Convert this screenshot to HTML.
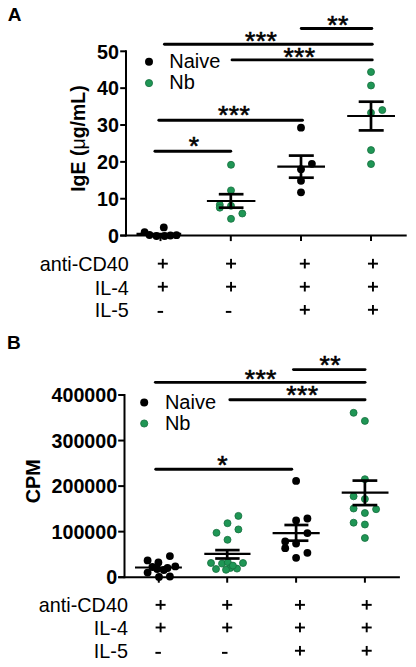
<!DOCTYPE html>
<html><head><meta charset="utf-8"><style>
html,body{margin:0;padding:0;background:#fff;width:416px;height:667px;overflow:hidden}
svg{position:absolute;left:0;top:0;display:block}
text{font-family:"Liberation Sans",sans-serif;fill:#000}
</style></head><body>
<svg width="416" height="667" viewBox="0 0 416 667">
<line x1="126.00" y1="50.30" x2="126.00" y2="236.60" stroke="#000" stroke-width="2"/>
<line x1="120.20" y1="235.60" x2="126.00" y2="235.60" stroke="#000" stroke-width="2"/>
<text x="119.00" y="242.80" font-size="19.7" font-weight="bold" text-anchor="end">0</text>
<line x1="120.20" y1="198.74" x2="126.00" y2="198.74" stroke="#000" stroke-width="2"/>
<text x="119.00" y="205.94" font-size="19.7" font-weight="bold" text-anchor="end">10</text>
<line x1="120.20" y1="161.88" x2="126.00" y2="161.88" stroke="#000" stroke-width="2"/>
<text x="119.00" y="169.08" font-size="19.7" font-weight="bold" text-anchor="end">20</text>
<line x1="120.20" y1="125.02" x2="126.00" y2="125.02" stroke="#000" stroke-width="2"/>
<text x="119.00" y="132.22" font-size="19.7" font-weight="bold" text-anchor="end">30</text>
<line x1="120.20" y1="88.16" x2="126.00" y2="88.16" stroke="#000" stroke-width="2"/>
<text x="119.00" y="95.36" font-size="19.7" font-weight="bold" text-anchor="end">40</text>
<line x1="120.20" y1="51.30" x2="126.00" y2="51.30" stroke="#000" stroke-width="2"/>
<text x="119.00" y="58.50" font-size="19.7" font-weight="bold" text-anchor="end">50</text>
<line x1="120.20" y1="235.60" x2="406.70" y2="235.60" stroke="#000" stroke-width="2"/>
<line x1="160.50" y1="235.60" x2="160.50" y2="241.10" stroke="#000" stroke-width="2"/>
<line x1="230.80" y1="235.60" x2="230.80" y2="241.10" stroke="#000" stroke-width="2"/>
<line x1="301.00" y1="235.60" x2="301.00" y2="241.10" stroke="#000" stroke-width="2"/>
<line x1="371.00" y1="235.60" x2="371.00" y2="241.10" stroke="#000" stroke-width="2"/>
<text x="85.20" y="191.80" font-size="19.5" font-weight="bold" transform="rotate(-90 85.2 191.8)">IgE (<tspan font-weight="normal">μ</tspan>g/mL)</text>
<text x="7.70" y="20.70" font-size="19" font-weight="bold">A</text>
<circle cx="149" cy="61.8" r="4" fill="#000"/>
<circle cx="149" cy="83.1" r="3.6" fill="#1f9655" stroke="#156e3e" stroke-width="0.8"/>
<text x="169.30" y="68.00" font-size="20">Naive</text>
<text x="169.30" y="89.30" font-size="20">Nb</text>
<circle cx="144.6" cy="232.2" r="3.9" fill="#000"/>
<circle cx="149.5" cy="235" r="3.9" fill="#000"/>
<circle cx="156.5" cy="236" r="3.9" fill="#000"/>
<circle cx="163.8" cy="227.4" r="3.9" fill="#000"/>
<circle cx="164.6" cy="236" r="3.9" fill="#000"/>
<circle cx="170.4" cy="235.5" r="3.9" fill="#000"/>
<circle cx="176.5" cy="235.2" r="3.9" fill="#000"/>
<line x1="136.50" y1="233.80" x2="181.20" y2="233.80" stroke="#000" stroke-width="2.2"/>
<circle cx="231" cy="164.8" r="3.5" fill="#1f9655" stroke="#156e3e" stroke-width="0.8"/>
<circle cx="231" cy="190.4" r="3.5" fill="#1f9655" stroke="#156e3e" stroke-width="0.8"/>
<circle cx="219.8" cy="204.8" r="3.5" fill="#1f9655" stroke="#156e3e" stroke-width="0.8"/>
<circle cx="219.8" cy="207.7" r="3.5" fill="#1f9655" stroke="#156e3e" stroke-width="0.8"/>
<circle cx="231" cy="205.8" r="3.5" fill="#1f9655" stroke="#156e3e" stroke-width="0.8"/>
<circle cx="242.3" cy="213.5" r="3.5" fill="#1f9655" stroke="#156e3e" stroke-width="0.8"/>
<circle cx="231" cy="218.8" r="3.5" fill="#1f9655" stroke="#156e3e" stroke-width="0.8"/>
<line x1="206.90" y1="201.00" x2="255.40" y2="201.00" stroke="#000" stroke-width="2.2"/>
<line x1="230.80" y1="194.20" x2="230.80" y2="207.70" stroke="#000" stroke-width="2.7"/>
<line x1="218.80" y1="194.20" x2="243.50" y2="194.20" stroke="#000" stroke-width="2.7"/>
<line x1="218.80" y1="207.70" x2="243.50" y2="207.70" stroke="#000" stroke-width="2.7"/>
<circle cx="301" cy="127.7" r="3.9" fill="#000"/>
<circle cx="311.9" cy="163.8" r="3.9" fill="#000"/>
<circle cx="301" cy="169.2" r="3.9" fill="#000"/>
<circle cx="301" cy="180.8" r="3.9" fill="#000"/>
<circle cx="301" cy="192.3" r="3.9" fill="#000"/>
<line x1="277.30" y1="166.70" x2="325.00" y2="166.70" stroke="#000" stroke-width="2.2"/>
<line x1="301.00" y1="155.60" x2="301.00" y2="177.70" stroke="#000" stroke-width="2.7"/>
<line x1="288.80" y1="155.60" x2="313.80" y2="155.60" stroke="#000" stroke-width="2.7"/>
<line x1="288.80" y1="177.70" x2="313.80" y2="177.70" stroke="#000" stroke-width="2.7"/>
<circle cx="371" cy="72" r="3.5" fill="#1f9655" stroke="#156e3e" stroke-width="0.8"/>
<circle cx="371" cy="85.5" r="3.5" fill="#1f9655" stroke="#156e3e" stroke-width="0.8"/>
<circle cx="382.3" cy="110.1" r="3.5" fill="#1f9655" stroke="#156e3e" stroke-width="0.8"/>
<circle cx="371" cy="112.8" r="3.5" fill="#1f9655" stroke="#156e3e" stroke-width="0.8"/>
<circle cx="371" cy="150.1" r="3.5" fill="#1f9655" stroke="#156e3e" stroke-width="0.8"/>
<circle cx="371" cy="164.1" r="3.5" fill="#1f9655" stroke="#156e3e" stroke-width="0.8"/>
<line x1="347.20" y1="116.00" x2="395.00" y2="116.00" stroke="#000" stroke-width="2.2"/>
<line x1="371.00" y1="101.70" x2="371.00" y2="130.40" stroke="#000" stroke-width="2.7"/>
<line x1="358.70" y1="101.70" x2="383.70" y2="101.70" stroke="#000" stroke-width="2.7"/>
<line x1="358.70" y1="130.40" x2="383.70" y2="130.40" stroke="#000" stroke-width="2.7"/>
<line x1="301.25" y1="28.50" x2="371.85" y2="28.50" stroke="#000" stroke-width="2.9" stroke-linecap="round"/>
<text x="327.20" y="34.10" font-size="26.5" letter-spacing="0.4" stroke="#000" stroke-width="0.6">**</text>
<line x1="164.45" y1="44.20" x2="372.25" y2="44.20" stroke="#000" stroke-width="2.9" stroke-linecap="round"/>
<text x="245.00" y="49.50" font-size="26.5" letter-spacing="0.4" stroke="#000" stroke-width="0.6">***</text>
<line x1="232.05" y1="59.90" x2="372.25" y2="59.90" stroke="#000" stroke-width="2.9" stroke-linecap="round"/>
<text x="283.40" y="65.70" font-size="26.5" letter-spacing="0.4" stroke="#000" stroke-width="0.6">***</text>
<line x1="158.85" y1="120.20" x2="302.45" y2="120.20" stroke="#000" stroke-width="2.9" stroke-linecap="round"/>
<text x="218.00" y="124.20" font-size="26.5" letter-spacing="0.4" stroke="#000" stroke-width="0.6">***</text>
<line x1="154.95" y1="151.30" x2="230.75" y2="151.30" stroke="#000" stroke-width="2.9" stroke-linecap="round"/>
<text x="188.70" y="155.30" font-size="26.5" letter-spacing="0.4" stroke="#000" stroke-width="0.6">*</text>
<text x="128.80" y="270.60" font-size="19.8" text-anchor="end">anti-CD40</text>
<text x="128.80" y="294.50" font-size="19.8" text-anchor="end">IL-4</text>
<text x="128.80" y="316.60" font-size="19.8" text-anchor="end">IL-5</text>
<line x1="157.80" y1="263.65" x2="167.80" y2="263.65" stroke="#000" stroke-width="1.95"/>
<line x1="162.80" y1="258.85" x2="162.80" y2="268.45" stroke="#000" stroke-width="1.95"/>
<line x1="226.05" y1="263.65" x2="236.05" y2="263.65" stroke="#000" stroke-width="1.95"/>
<line x1="231.05" y1="258.85" x2="231.05" y2="268.45" stroke="#000" stroke-width="1.95"/>
<line x1="299.80" y1="263.65" x2="309.80" y2="263.65" stroke="#000" stroke-width="1.95"/>
<line x1="304.80" y1="258.85" x2="304.80" y2="268.45" stroke="#000" stroke-width="1.95"/>
<line x1="367.95" y1="263.65" x2="377.95" y2="263.65" stroke="#000" stroke-width="1.95"/>
<line x1="372.95" y1="258.85" x2="372.95" y2="268.45" stroke="#000" stroke-width="1.95"/>
<line x1="157.80" y1="286.70" x2="167.80" y2="286.70" stroke="#000" stroke-width="1.95"/>
<line x1="162.80" y1="281.90" x2="162.80" y2="291.50" stroke="#000" stroke-width="1.95"/>
<line x1="226.05" y1="286.70" x2="236.05" y2="286.70" stroke="#000" stroke-width="1.95"/>
<line x1="231.05" y1="281.90" x2="231.05" y2="291.50" stroke="#000" stroke-width="1.95"/>
<line x1="299.80" y1="286.70" x2="309.80" y2="286.70" stroke="#000" stroke-width="1.95"/>
<line x1="304.80" y1="281.90" x2="304.80" y2="291.50" stroke="#000" stroke-width="1.95"/>
<line x1="367.95" y1="286.70" x2="377.95" y2="286.70" stroke="#000" stroke-width="1.95"/>
<line x1="372.95" y1="281.90" x2="372.95" y2="291.50" stroke="#000" stroke-width="1.95"/>
<line x1="157.60" y1="311.90" x2="163.10" y2="311.90" stroke="#000" stroke-width="1.95"/>
<line x1="225.85" y1="311.90" x2="231.35" y2="311.90" stroke="#000" stroke-width="1.95"/>
<line x1="299.80" y1="309.80" x2="309.80" y2="309.80" stroke="#000" stroke-width="1.95"/>
<line x1="304.80" y1="305.00" x2="304.80" y2="314.60" stroke="#000" stroke-width="1.95"/>
<line x1="367.95" y1="309.80" x2="377.95" y2="309.80" stroke="#000" stroke-width="1.95"/>
<line x1="372.95" y1="305.00" x2="372.95" y2="314.60" stroke="#000" stroke-width="1.95"/>
<line x1="124.50" y1="394.00" x2="124.50" y2="578.20" stroke="#000" stroke-width="2"/>
<line x1="118.20" y1="577.20" x2="124.50" y2="577.20" stroke="#000" stroke-width="2"/>
<text x="117.20" y="584.40" font-size="19.7" font-weight="bold" text-anchor="end">0</text>
<line x1="118.20" y1="531.65" x2="124.50" y2="531.65" stroke="#000" stroke-width="2"/>
<text x="117.20" y="538.85" font-size="19.7" font-weight="bold" text-anchor="end">100000</text>
<line x1="118.20" y1="486.10" x2="124.50" y2="486.10" stroke="#000" stroke-width="2"/>
<text x="117.20" y="493.30" font-size="19.7" font-weight="bold" text-anchor="end">200000</text>
<line x1="118.20" y1="440.55" x2="124.50" y2="440.55" stroke="#000" stroke-width="2"/>
<text x="117.20" y="447.75" font-size="19.7" font-weight="bold" text-anchor="end">300000</text>
<line x1="118.20" y1="395.00" x2="124.50" y2="395.00" stroke="#000" stroke-width="2"/>
<text x="117.20" y="402.20" font-size="19.7" font-weight="bold" text-anchor="end">400000</text>
<line x1="118.20" y1="577.20" x2="399.90" y2="577.20" stroke="#000" stroke-width="2"/>
<line x1="158.80" y1="577.20" x2="158.80" y2="582.70" stroke="#000" stroke-width="2"/>
<line x1="227.20" y1="577.20" x2="227.20" y2="582.70" stroke="#000" stroke-width="2"/>
<line x1="296.10" y1="577.20" x2="296.10" y2="582.70" stroke="#000" stroke-width="2"/>
<line x1="364.90" y1="577.20" x2="364.90" y2="582.70" stroke="#000" stroke-width="2"/>
<text x="40.50" y="503.30" font-size="19.8" font-weight="bold" transform="rotate(-90 40.5 503.3)">CPM</text>
<text x="7.10" y="348.80" font-size="19" font-weight="bold">B</text>
<circle cx="144.2" cy="402.5" r="4" fill="#000"/>
<circle cx="144.2" cy="423.5" r="3.6" fill="#1f9655" stroke="#156e3e" stroke-width="0.8"/>
<text x="164.90" y="408.50" font-size="20">Naive</text>
<text x="164.90" y="429.60" font-size="20">Nb</text>
<circle cx="147.6" cy="560.4" r="3.9" fill="#000"/>
<circle cx="169.9" cy="556.1" r="3.9" fill="#000"/>
<circle cx="158.4" cy="562.4" r="3.9" fill="#000"/>
<circle cx="175.3" cy="566.4" r="3.9" fill="#000"/>
<circle cx="147.6" cy="572.6" r="3.9" fill="#000"/>
<circle cx="159" cy="576.9" r="3.9" fill="#000"/>
<circle cx="169.9" cy="576.5" r="3.9" fill="#000"/>
<circle cx="152.4" cy="567" r="3.9" fill="#000"/>
<circle cx="157.2" cy="569" r="3.9" fill="#000"/>
<circle cx="163.8" cy="570" r="3.9" fill="#000"/>
<circle cx="167.5" cy="568" r="3.9" fill="#000"/>
<line x1="135.00" y1="567.50" x2="181.90" y2="567.50" stroke="#000" stroke-width="2.2"/>
<circle cx="238.4" cy="515.9" r="3.5" fill="#1f9655" stroke="#156e3e" stroke-width="0.8"/>
<circle cx="227.5" cy="523.2" r="3.5" fill="#1f9655" stroke="#156e3e" stroke-width="0.8"/>
<circle cx="216.5" cy="532.8" r="3.5" fill="#1f9655" stroke="#156e3e" stroke-width="0.8"/>
<circle cx="238.4" cy="529.4" r="3.5" fill="#1f9655" stroke="#156e3e" stroke-width="0.8"/>
<circle cx="227.5" cy="539.8" r="3.5" fill="#1f9655" stroke="#156e3e" stroke-width="0.8"/>
<circle cx="211" cy="563" r="3.5" fill="#1f9655" stroke="#156e3e" stroke-width="0.8"/>
<circle cx="216" cy="569" r="3.5" fill="#1f9655" stroke="#156e3e" stroke-width="0.8"/>
<circle cx="222" cy="563.6" r="3.5" fill="#1f9655" stroke="#156e3e" stroke-width="0.8"/>
<circle cx="227.8" cy="562.2" r="3.5" fill="#1f9655" stroke="#156e3e" stroke-width="0.8"/>
<circle cx="230.3" cy="568" r="3.5" fill="#1f9655" stroke="#156e3e" stroke-width="0.8"/>
<circle cx="237" cy="568.6" r="3.5" fill="#1f9655" stroke="#156e3e" stroke-width="0.8"/>
<circle cx="243" cy="563" r="3.5" fill="#1f9655" stroke="#156e3e" stroke-width="0.8"/>
<circle cx="226" cy="569.8" r="3.5" fill="#1f9655" stroke="#156e3e" stroke-width="0.8"/>
<circle cx="232.9" cy="565.6" r="3.5" fill="#1f9655" stroke="#156e3e" stroke-width="0.8"/>
<line x1="204.30" y1="553.80" x2="250.50" y2="553.80" stroke="#000" stroke-width="2.2"/>
<line x1="227.20" y1="550.10" x2="227.20" y2="558.50" stroke="#000" stroke-width="2.7"/>
<line x1="215.20" y1="550.10" x2="239.60" y2="550.10" stroke="#000" stroke-width="2.7"/>
<line x1="215.20" y1="558.50" x2="239.60" y2="558.50" stroke="#000" stroke-width="2.7"/>
<circle cx="296.1" cy="480.9" r="3.9" fill="#000"/>
<circle cx="296.1" cy="520.5" r="3.9" fill="#000"/>
<circle cx="307.4" cy="518.5" r="3.9" fill="#000"/>
<circle cx="307.4" cy="533.1" r="3.9" fill="#000"/>
<circle cx="285.2" cy="541.5" r="3.9" fill="#000"/>
<circle cx="296.1" cy="543.5" r="3.9" fill="#000"/>
<circle cx="285.2" cy="548.2" r="3.9" fill="#000"/>
<circle cx="307.4" cy="552.8" r="3.9" fill="#000"/>
<circle cx="296.1" cy="557.8" r="3.9" fill="#000"/>
<line x1="272.60" y1="533.10" x2="319.70" y2="533.10" stroke="#000" stroke-width="2.2"/>
<line x1="296.10" y1="525.00" x2="296.10" y2="540.70" stroke="#000" stroke-width="2.7"/>
<line x1="284.40" y1="525.00" x2="308.40" y2="525.00" stroke="#000" stroke-width="2.7"/>
<line x1="284.40" y1="540.70" x2="308.40" y2="540.70" stroke="#000" stroke-width="2.7"/>
<circle cx="353.6" cy="412.8" r="3.5" fill="#1f9655" stroke="#156e3e" stroke-width="0.8"/>
<circle cx="364.9" cy="420.9" r="3.5" fill="#1f9655" stroke="#156e3e" stroke-width="0.8"/>
<circle cx="364.9" cy="479.2" r="3.5" fill="#1f9655" stroke="#156e3e" stroke-width="0.8"/>
<circle cx="353.6" cy="496.3" r="3.5" fill="#1f9655" stroke="#156e3e" stroke-width="0.8"/>
<circle cx="364.9" cy="499" r="3.5" fill="#1f9655" stroke="#156e3e" stroke-width="0.8"/>
<circle cx="353.6" cy="508.5" r="3.5" fill="#1f9655" stroke="#156e3e" stroke-width="0.8"/>
<circle cx="376.1" cy="509.2" r="3.5" fill="#1f9655" stroke="#156e3e" stroke-width="0.8"/>
<circle cx="364.9" cy="513" r="3.5" fill="#1f9655" stroke="#156e3e" stroke-width="0.8"/>
<circle cx="353.6" cy="522.7" r="3.5" fill="#1f9655" stroke="#156e3e" stroke-width="0.8"/>
<circle cx="364.9" cy="524.5" r="3.5" fill="#1f9655" stroke="#156e3e" stroke-width="0.8"/>
<circle cx="364.9" cy="538" r="3.5" fill="#1f9655" stroke="#156e3e" stroke-width="0.8"/>
<line x1="341.70" y1="492.70" x2="388.50" y2="492.70" stroke="#000" stroke-width="2.2"/>
<line x1="364.90" y1="480.60" x2="364.90" y2="505.10" stroke="#000" stroke-width="2.7"/>
<line x1="352.50" y1="480.60" x2="377.30" y2="480.60" stroke="#000" stroke-width="2.7"/>
<line x1="352.50" y1="505.10" x2="377.30" y2="505.10" stroke="#000" stroke-width="2.7"/>
<line x1="293.45" y1="369.60" x2="365.05" y2="369.60" stroke="#000" stroke-width="2.9" stroke-linecap="round"/>
<text x="319.60" y="374.40" font-size="26.5" letter-spacing="0.4" stroke="#000" stroke-width="0.6">**</text>
<line x1="155.35" y1="382.35" x2="365.05" y2="382.35" stroke="#000" stroke-width="2.9" stroke-linecap="round"/>
<text x="244.70" y="388.20" font-size="26.5" letter-spacing="0.4" stroke="#000" stroke-width="0.6">***</text>
<line x1="229.85" y1="399.80" x2="365.05" y2="399.80" stroke="#000" stroke-width="2.9" stroke-linecap="round"/>
<text x="286.30" y="403.70" font-size="26.5" letter-spacing="0.4" stroke="#000" stroke-width="0.6">***</text>
<line x1="155.75" y1="469.20" x2="291.75" y2="469.20" stroke="#000" stroke-width="2.9" stroke-linecap="round"/>
<text x="217.20" y="474.00" font-size="26.5" letter-spacing="0.4" stroke="#000" stroke-width="0.6">*</text>
<text x="127.90" y="611.50" font-size="19.8" text-anchor="end">anti-CD40</text>
<text x="127.90" y="634.50" font-size="19.8" text-anchor="end">IL-4</text>
<text x="127.90" y="657.60" font-size="19.8" text-anchor="end">IL-5</text>
<line x1="155.60" y1="604.85" x2="165.60" y2="604.85" stroke="#000" stroke-width="1.95"/>
<line x1="160.60" y1="600.05" x2="160.60" y2="609.65" stroke="#000" stroke-width="1.95"/>
<line x1="222.20" y1="604.85" x2="232.20" y2="604.85" stroke="#000" stroke-width="1.95"/>
<line x1="227.20" y1="600.05" x2="227.20" y2="609.65" stroke="#000" stroke-width="1.95"/>
<line x1="294.95" y1="604.85" x2="304.95" y2="604.85" stroke="#000" stroke-width="1.95"/>
<line x1="299.95" y1="600.05" x2="299.95" y2="609.65" stroke="#000" stroke-width="1.95"/>
<line x1="361.70" y1="604.85" x2="371.70" y2="604.85" stroke="#000" stroke-width="1.95"/>
<line x1="366.70" y1="600.05" x2="366.70" y2="609.65" stroke="#000" stroke-width="1.95"/>
<line x1="155.60" y1="627.50" x2="165.60" y2="627.50" stroke="#000" stroke-width="1.95"/>
<line x1="160.60" y1="622.70" x2="160.60" y2="632.30" stroke="#000" stroke-width="1.95"/>
<line x1="222.20" y1="627.50" x2="232.20" y2="627.50" stroke="#000" stroke-width="1.95"/>
<line x1="227.20" y1="622.70" x2="227.20" y2="632.30" stroke="#000" stroke-width="1.95"/>
<line x1="294.95" y1="627.50" x2="304.95" y2="627.50" stroke="#000" stroke-width="1.95"/>
<line x1="299.95" y1="622.70" x2="299.95" y2="632.30" stroke="#000" stroke-width="1.95"/>
<line x1="361.70" y1="627.50" x2="371.70" y2="627.50" stroke="#000" stroke-width="1.95"/>
<line x1="366.70" y1="622.70" x2="366.70" y2="632.30" stroke="#000" stroke-width="1.95"/>
<line x1="155.40" y1="652.85" x2="160.90" y2="652.85" stroke="#000" stroke-width="1.95"/>
<line x1="222.00" y1="652.85" x2="227.50" y2="652.85" stroke="#000" stroke-width="1.95"/>
<line x1="294.95" y1="650.75" x2="304.95" y2="650.75" stroke="#000" stroke-width="1.95"/>
<line x1="299.95" y1="645.95" x2="299.95" y2="655.55" stroke="#000" stroke-width="1.95"/>
<line x1="361.70" y1="650.75" x2="371.70" y2="650.75" stroke="#000" stroke-width="1.95"/>
<line x1="366.70" y1="645.95" x2="366.70" y2="655.55" stroke="#000" stroke-width="1.95"/>
</svg></body></html>
